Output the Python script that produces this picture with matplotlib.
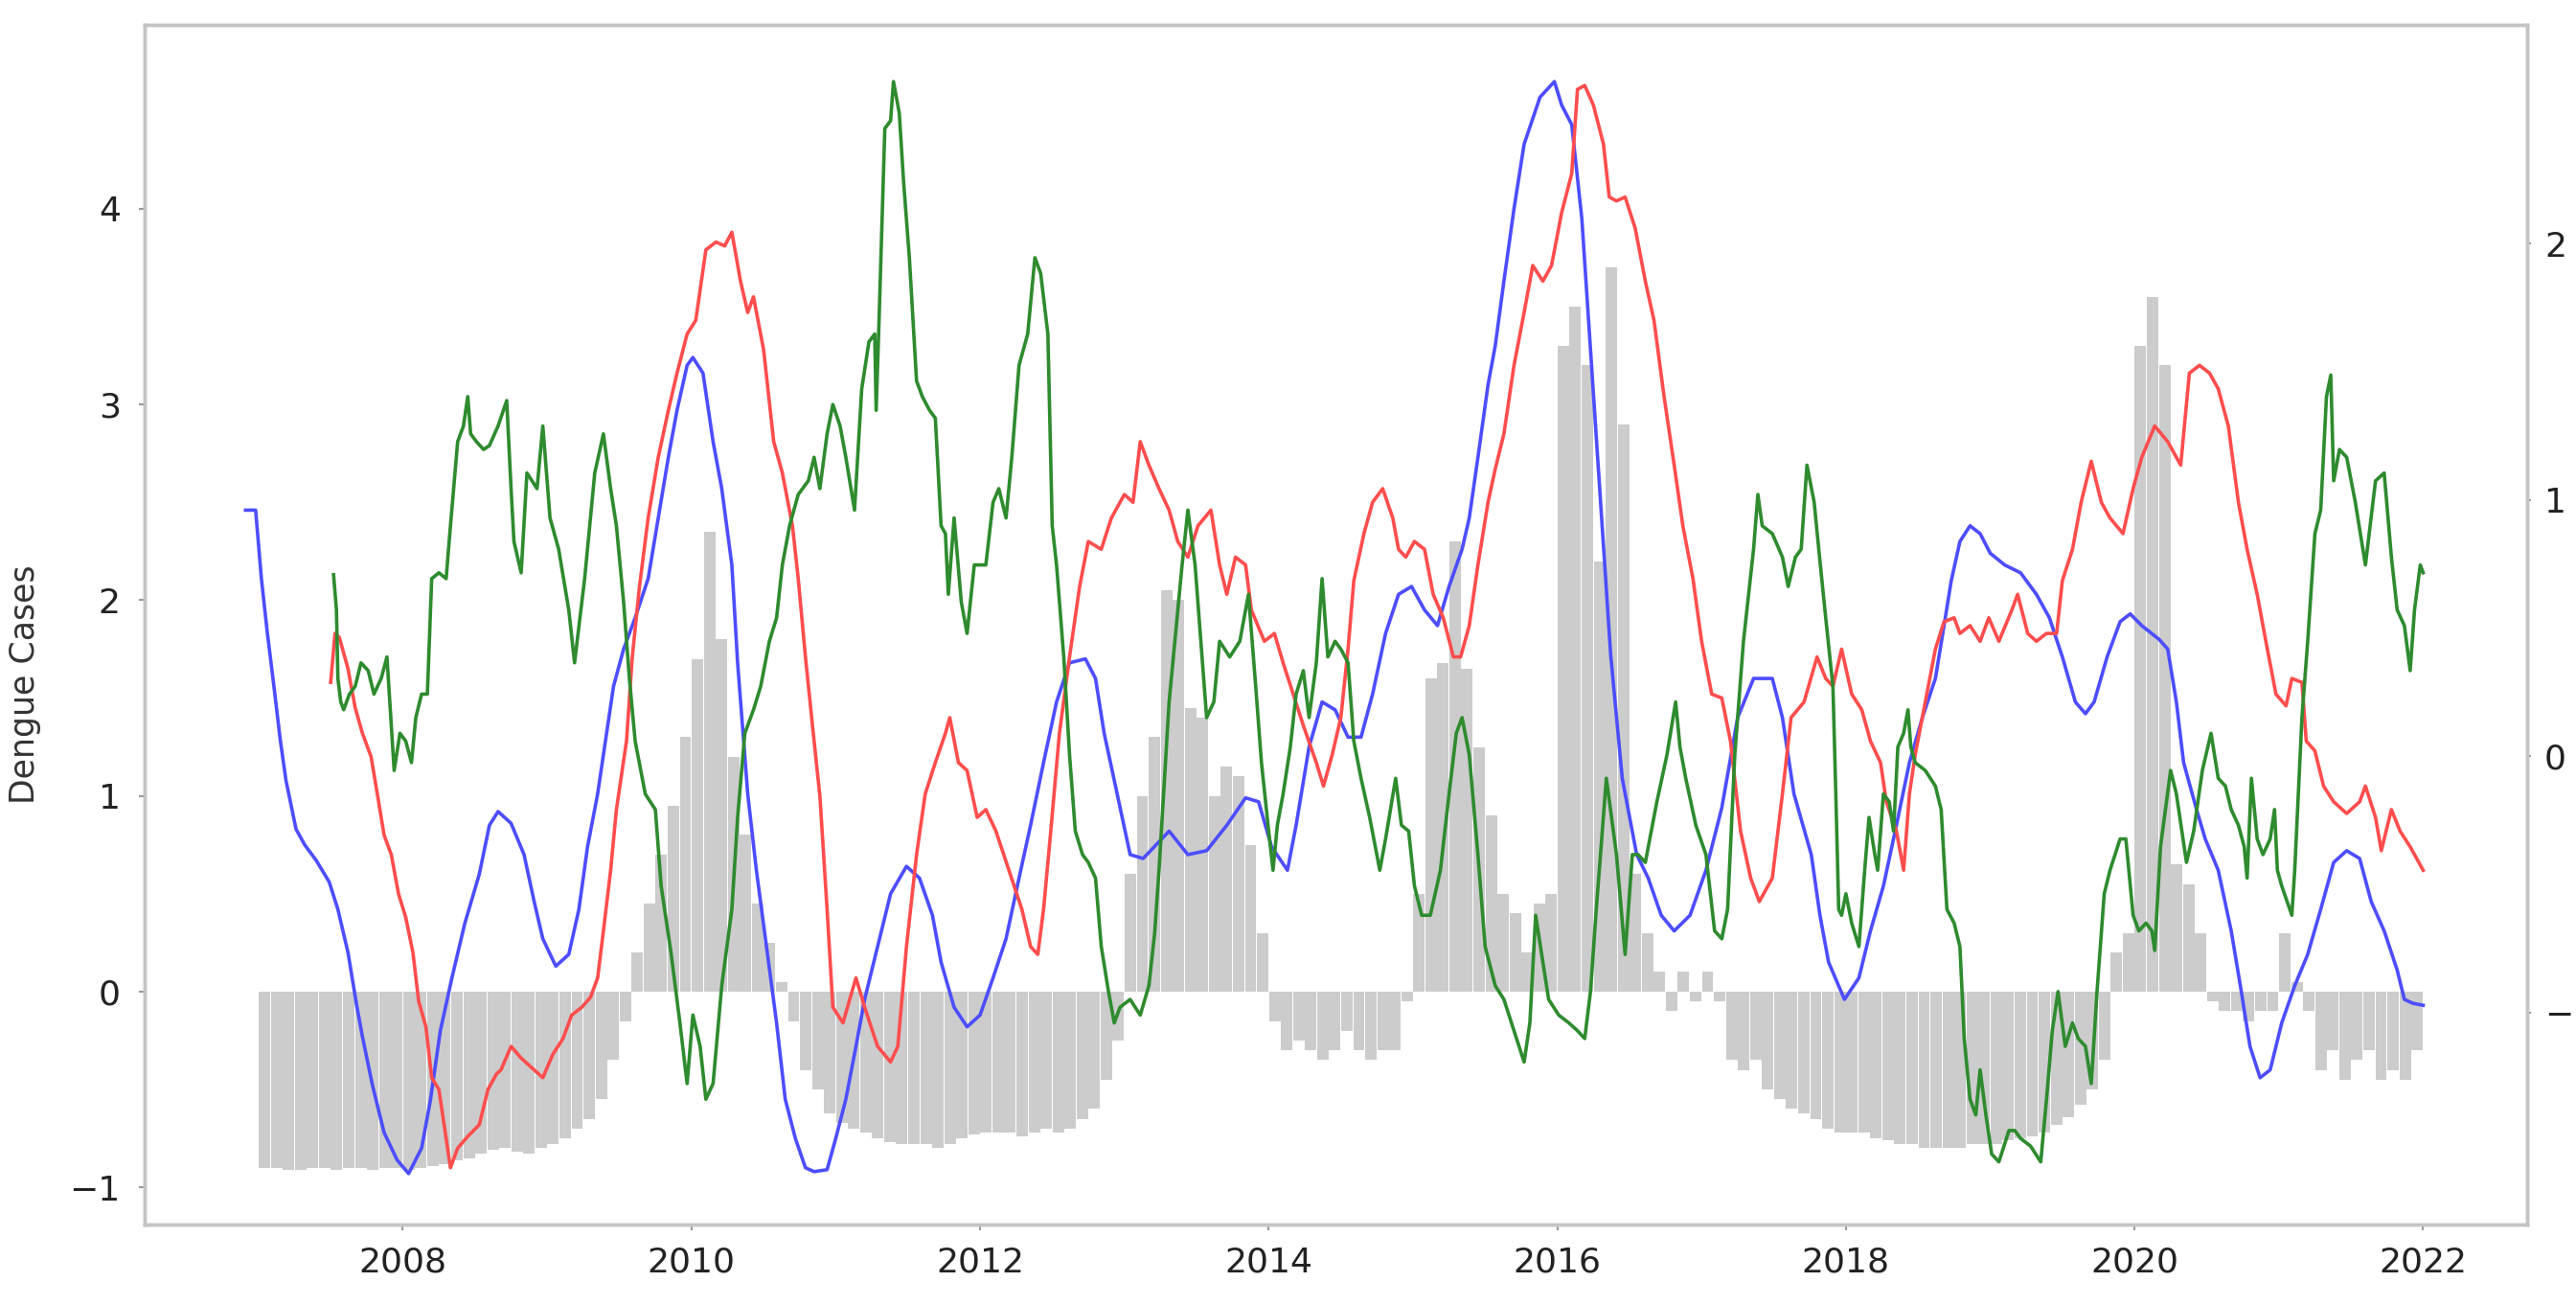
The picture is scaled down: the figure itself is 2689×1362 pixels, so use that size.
import matplotlib
matplotlib.use("Agg")
import matplotlib.pyplot as plt
import numpy as np

# ---------------- data (left-axis units) ----------------
bars_2007 = [-0.90, -0.90, -0.91, -0.91, -0.90, -0.90, -0.91, -0.90, -0.90, -0.91, -0.90, -0.90]
bars_2008 = [-0.91, -0.90, -0.89, -0.88, -0.86, -0.85, -0.83, -0.81, -0.80, -0.82, -0.83, -0.80]
bars_2009 = [-0.78, -0.75, -0.70, -0.65, -0.55, -0.35, -0.15, 0.20, 0.45, 0.70, 0.95, 1.30]
bars_2010 = [1.70, 2.35, 1.80, 1.20, 0.80, 0.45, 0.25, 0.05, -0.15, -0.40, -0.50, -0.62]
bars_2011 = [-0.67, -0.70, -0.72, -0.75, -0.77, -0.78, -0.78, -0.78, -0.80, -0.78, -0.75, -0.73]
bars_2012 = [-0.72, -0.72, -0.72, -0.74, -0.72, -0.70, -0.72, -0.70, -0.65, -0.60, -0.45, -0.25]
bars_2013 = [0.60, 1.00, 1.30, 2.05, 2.00, 1.45, 1.40, 1.00, 1.15, 1.10, 0.75, 0.30]
bars_2014 = [-0.15, -0.30, -0.25, -0.30, -0.35, -0.30, -0.20, -0.30, -0.35, -0.30, -0.30, -0.05]
bars_2015 = [0.50, 1.60, 1.68, 2.30, 1.65, 1.25, 0.90, 0.50, 0.40, 0.20, 0.45, 0.50]
bars_2016 = [3.30, 3.50, 3.20, 2.20, 3.70, 2.90, 0.60, 0.30, 0.10, -0.10, 0.10, -0.05]
bars_2017 = [0.10, -0.05, -0.35, -0.40, -0.35, -0.50, -0.55, -0.60, -0.62, -0.65, -0.70, -0.72]
bars_2018 = [-0.72, -0.72, -0.75, -0.76, -0.78, -0.78, -0.80, -0.80, -0.80, -0.80, -0.78, -0.78]
bars_2019 = [-0.78, -0.76, -0.75, -0.74, -0.72, -0.68, -0.64, -0.58, -0.50, -0.35, 0.20, 0.30]
bars_2020 = [3.30, 3.55, 3.20, 0.65, 0.55, 0.30, -0.05, -0.10, -0.10, -0.15, -0.10, -0.10]
bars_2021 = [0.30, 0.05, -0.10, -0.40, -0.30, -0.45, -0.35, -0.30, -0.45, -0.40, -0.45, -0.30]
bar_years = [2007, 2008, 2009, 2010, 2011, 2012, 2013, 2014, 2015, 2016, 2017, 2018, 2019, 2020, 2021]
bar_rows = [bars_2007, bars_2008, bars_2009, bars_2010, bars_2011, bars_2012, bars_2013,
            bars_2014, bars_2015, bars_2016, bars_2017, bars_2018, bars_2019, bars_2020, bars_2021]

blue_points = [
    (2006.91, 2.46), (2006.98, 2.46), (2007.02, 2.11), (2007.06, 1.84), (2007.11, 1.54), (2007.15, 1.29),
    (2007.19, 1.08), (2007.26, 0.83), (2007.32, 0.75), (2007.40, 0.67), (2007.49, 0.56), (2007.55, 0.42),
    (2007.62, 0.20), (2007.68, -0.07), (2007.72, -0.23), (2007.79, -0.48), (2007.87, -0.72), (2007.96, -0.86),
    (2008.04, -0.93), (2008.13, -0.80), (2008.19, -0.56), (2008.26, -0.20), (2008.34, 0.07), (2008.43, 0.35),
    (2008.53, 0.60), (2008.60, 0.85), (2008.66, 0.92), (2008.75, 0.86), (2008.84, 0.70), (2008.91, 0.46),
    (2008.97, 0.27), (2009.06, 0.13), (2009.15, 0.19), (2009.22, 0.42), (2009.28, 0.74), (2009.35, 1.01),
    (2009.39, 1.21), (2009.46, 1.56), (2009.53, 1.75), (2009.61, 1.91), (2009.70, 2.11), (2009.77, 2.42),
    (2009.84, 2.73), (2009.90, 2.97), (2009.97, 3.20), (2010.01, 3.24), (2010.08, 3.16), (2010.15, 2.81),
    (2010.21, 2.57), (2010.28, 2.18), (2010.32, 1.68), (2010.39, 1.01), (2010.45, 0.62), (2010.52, 0.23),
    (2010.59, -0.16), (2010.65, -0.55), (2010.72, -0.75), (2010.79, -0.90), (2010.85, -0.92), (2010.94, -0.91),
    (2011.00, -0.75), (2011.07, -0.55), (2011.14, -0.28), (2011.20, -0.04), (2011.29, 0.23), (2011.38, 0.50),
    (2011.49, 0.64), (2011.58, 0.58), (2011.67, 0.39), (2011.73, 0.15), (2011.82, -0.08), (2011.91, -0.18),
    (2012.00, -0.12), (2012.09, 0.07), (2012.18, 0.27), (2012.27, 0.58), (2012.35, 0.85), (2012.44, 1.17),
    (2012.53, 1.48), (2012.62, 1.68), (2012.73, 1.70), (2012.80, 1.60), (2012.86, 1.32), (2012.95, 1.01),
    (2013.04, 0.70), (2013.13, 0.68), (2013.22, 0.75), (2013.31, 0.82), (2013.44, 0.70), (2013.57, 0.72),
    (2013.71, 0.85), (2013.84, 0.99), (2013.93, 0.97), (2014.02, 0.74), (2014.13, 0.62), (2014.19, 0.85),
    (2014.28, 1.25), (2014.37, 1.48), (2014.46, 1.44), (2014.55, 1.30), (2014.64, 1.30), (2014.72, 1.52),
    (2014.81, 1.83), (2014.90, 2.03), (2014.99, 2.07), (2015.08, 1.95), (2015.17, 1.87), (2015.25, 2.07),
    (2015.34, 2.26), (2015.39, 2.42), (2015.45, 2.73), (2015.52, 3.10), (2015.57, 3.30), (2015.63, 3.63),
    (2015.70, 4.00), (2015.77, 4.33), (2015.88, 4.57), (2015.98, 4.65), (2016.03, 4.53), (2016.10, 4.43),
    (2016.17, 3.95), (2016.23, 3.28), (2016.30, 2.50), (2016.37, 1.72), (2016.45, 1.09), (2016.55, 0.70),
    (2016.63, 0.58), (2016.72, 0.39), (2016.81, 0.31), (2016.92, 0.39), (2017.03, 0.62), (2017.14, 0.94),
    (2017.25, 1.40), (2017.36, 1.60), (2017.49, 1.60), (2017.56, 1.40), (2017.64, 1.01), (2017.76, 0.70),
    (2017.82, 0.39), (2017.88, 0.15), (2017.99, -0.04), (2018.09, 0.07), (2018.17, 0.31), (2018.26, 0.54),
    (2018.35, 0.85), (2018.44, 1.17), (2018.53, 1.40), (2018.62, 1.60), (2018.68, 1.87), (2018.73, 2.10),
    (2018.79, 2.30), (2018.86, 2.38), (2018.93, 2.34), (2019.00, 2.24), (2019.10, 2.18), (2019.21, 2.14),
    (2019.32, 2.03), (2019.41, 1.91), (2019.50, 1.71), (2019.59, 1.48), (2019.66, 1.42), (2019.72, 1.48),
    (2019.81, 1.71), (2019.90, 1.89), (2019.97, 1.93), (2020.05, 1.87), (2020.17, 1.80), (2020.23, 1.75),
    (2020.29, 1.48), (2020.34, 1.17), (2020.43, 0.93), (2020.49, 0.78), (2020.58, 0.62), (2020.67, 0.31),
    (2020.74, 0.00), (2020.80, -0.28), (2020.87, -0.44), (2020.94, -0.40), (2021.02, -0.16), (2021.11, 0.03),
    (2021.20, 0.19), (2021.29, 0.42), (2021.38, 0.66), (2021.47, 0.72), (2021.56, 0.68), (2021.64, 0.46),
    (2021.73, 0.31), (2021.82, 0.11), (2021.87, -0.04), (2021.93, -0.06), (2022.00, -0.07),
]

red_points = [
    (2007.50, 1.58), (2007.53, 1.83), (2007.56, 1.81), (2007.62, 1.65), (2007.67, 1.45), (2007.72, 1.32),
    (2007.78, 1.20), (2007.83, 0.98), (2007.87, 0.80), (2007.92, 0.70), (2007.97, 0.50), (2008.02, 0.38),
    (2008.07, 0.20), (2008.11, -0.05), (2008.16, -0.18), (2008.20, -0.44), (2008.25, -0.50), (2008.29, -0.70),
    (2008.33, -0.90), (2008.38, -0.80), (2008.45, -0.74), (2008.53, -0.68), (2008.59, -0.50), (2008.65, -0.42),
    (2008.68, -0.40), (2008.75, -0.28), (2008.82, -0.34), (2008.88, -0.38), (2008.97, -0.44), (2009.04, -0.32),
    (2009.11, -0.24), (2009.17, -0.12), (2009.24, -0.08), (2009.30, -0.03), (2009.35, 0.07), (2009.39, 0.31),
    (2009.44, 0.62), (2009.48, 0.93), (2009.55, 1.28), (2009.59, 1.71), (2009.64, 2.07), (2009.70, 2.42),
    (2009.77, 2.73), (2009.84, 2.97), (2009.90, 3.16), (2009.97, 3.36), (2010.03, 3.43), (2010.10, 3.79),
    (2010.17, 3.83), (2010.23, 3.81), (2010.28, 3.88), (2010.34, 3.63), (2010.39, 3.47), (2010.43, 3.55),
    (2010.50, 3.28), (2010.57, 2.81), (2010.63, 2.65), (2010.70, 2.38), (2010.74, 2.11), (2010.79, 1.71),
    (2010.84, 1.35), (2010.89, 1.00), (2010.94, 0.42), (2010.98, -0.08), (2011.05, -0.16), (2011.14, 0.07),
    (2011.20, -0.08), (2011.29, -0.28), (2011.38, -0.36), (2011.43, -0.28), (2011.49, 0.23), (2011.56, 0.70),
    (2011.62, 1.01), (2011.69, 1.17), (2011.76, 1.32), (2011.79, 1.40), (2011.85, 1.17), (2011.91, 1.13),
    (2011.98, 0.89), (2012.04, 0.93), (2012.11, 0.82), (2012.20, 0.62), (2012.29, 0.42), (2012.35, 0.23),
    (2012.40, 0.19), (2012.44, 0.42), (2012.49, 0.82), (2012.55, 1.32), (2012.62, 1.71), (2012.69, 2.07),
    (2012.75, 2.30), (2012.84, 2.26), (2012.91, 2.42), (2013.00, 2.54), (2013.06, 2.50), (2013.11, 2.81),
    (2013.17, 2.69), (2013.24, 2.57), (2013.31, 2.46), (2013.37, 2.30), (2013.44, 2.22), (2013.51, 2.38),
    (2013.60, 2.46), (2013.66, 2.18), (2013.71, 2.03), (2013.77, 2.22), (2013.84, 2.18), (2013.88, 1.95),
    (2013.97, 1.79), (2014.04, 1.83), (2014.10, 1.68), (2014.17, 1.52), (2014.24, 1.36), (2014.33, 1.17),
    (2014.38, 1.05), (2014.44, 1.21), (2014.50, 1.40), (2014.55, 1.75), (2014.59, 2.10), (2014.66, 2.34),
    (2014.72, 2.50), (2014.79, 2.57), (2014.86, 2.42), (2014.90, 2.26), (2014.95, 2.22), (2015.01, 2.30),
    (2015.08, 2.26), (2015.14, 2.03), (2015.21, 1.91), (2015.28, 1.71), (2015.33, 1.71), (2015.39, 1.87),
    (2015.45, 2.18), (2015.52, 2.50), (2015.57, 2.67), (2015.63, 2.85), (2015.70, 3.20), (2015.77, 3.47),
    (2015.83, 3.71), (2015.90, 3.63), (2015.96, 3.71), (2016.03, 3.98), (2016.10, 4.18), (2016.14, 4.61),
    (2016.19, 4.63), (2016.25, 4.53), (2016.32, 4.33), (2016.36, 4.06), (2016.41, 4.04), (2016.47, 4.06),
    (2016.54, 3.90), (2016.61, 3.63), (2016.67, 3.43), (2016.74, 3.04), (2016.81, 2.69), (2016.87, 2.38),
    (2016.94, 2.11), (2017.00, 1.79), (2017.07, 1.52), (2017.14, 1.50), (2017.20, 1.28), (2017.27, 0.82),
    (2017.34, 0.58), (2017.40, 0.46), (2017.49, 0.58), (2017.56, 1.01), (2017.62, 1.40), (2017.71, 1.48),
    (2017.80, 1.71), (2017.86, 1.60), (2017.91, 1.56), (2017.97, 1.75), (2018.04, 1.52), (2018.11, 1.44),
    (2018.17, 1.28), (2018.24, 1.17), (2018.28, 0.97), (2018.35, 0.82), (2018.40, 0.62), (2018.44, 1.01),
    (2018.48, 1.21), (2018.55, 1.48), (2018.62, 1.75), (2018.68, 1.89), (2018.75, 1.91), (2018.79, 1.83),
    (2018.86, 1.87), (2018.93, 1.79), (2018.99, 1.91), (2019.06, 1.79), (2019.15, 1.95), (2019.19, 2.03),
    (2019.26, 1.83), (2019.32, 1.79), (2019.39, 1.83), (2019.46, 1.83), (2019.50, 2.10), (2019.57, 2.26),
    (2019.63, 2.50), (2019.70, 2.71), (2019.77, 2.50), (2019.83, 2.42), (2019.92, 2.34), (2019.99, 2.57),
    (2020.05, 2.73), (2020.14, 2.89), (2020.23, 2.81), (2020.32, 2.69), (2020.38, 3.16), (2020.45, 3.20),
    (2020.52, 3.16), (2020.58, 3.08), (2020.65, 2.89), (2020.72, 2.50), (2020.78, 2.26), (2020.85, 2.03),
    (2020.91, 1.79), (2020.98, 1.52), (2021.05, 1.46), (2021.09, 1.60), (2021.16, 1.58), (2021.19, 1.28),
    (2021.25, 1.23), (2021.31, 1.05), (2021.38, 0.97), (2021.47, 0.91), (2021.56, 0.97), (2021.60, 1.05),
    (2021.67, 0.89), (2021.71, 0.72), (2021.78, 0.93), (2021.84, 0.82), (2021.91, 0.74), (2022.00, 0.62),
]

green_points = [
    (2007.52, 2.13), (2007.54, 1.95), (2007.55, 1.60), (2007.57, 1.48), (2007.59, 1.44), (2007.63, 1.52),
    (2007.67, 1.56), (2007.71, 1.68), (2007.76, 1.64), (2007.80, 1.52), (2007.85, 1.60), (2007.89, 1.71),
    (2007.91, 1.48), (2007.94, 1.13), (2007.98, 1.32), (2008.02, 1.28), (2008.06, 1.17), (2008.09, 1.40),
    (2008.13, 1.52), (2008.17, 1.52), (2008.20, 2.11), (2008.25, 2.14), (2008.30, 2.11), (2008.33, 2.38),
    (2008.38, 2.81), (2008.42, 2.89), (2008.45, 3.04), (2008.47, 2.85), (2008.51, 2.81), (2008.56, 2.77),
    (2008.60, 2.79), (2008.66, 2.89), (2008.72, 3.02), (2008.75, 2.57), (2008.77, 2.30), (2008.82, 2.14),
    (2008.86, 2.65), (2008.93, 2.57), (2008.97, 2.89), (2009.02, 2.42), (2009.08, 2.26), (2009.15, 1.95),
    (2009.19, 1.68), (2009.26, 2.11), (2009.33, 2.65), (2009.39, 2.85), (2009.44, 2.57), (2009.48, 2.38),
    (2009.53, 1.99), (2009.57, 1.60), (2009.61, 1.28), (2009.68, 1.01), (2009.75, 0.93), (2009.79, 0.54),
    (2009.86, 0.19), (2009.92, -0.16), (2009.97, -0.47), (2010.01, -0.12), (2010.06, -0.28), (2010.10, -0.55),
    (2010.15, -0.47), (2010.21, 0.03), (2010.28, 0.42), (2010.32, 0.89), (2010.37, 1.32), (2010.43, 1.44),
    (2010.48, 1.56), (2010.54, 1.79), (2010.59, 1.91), (2010.63, 2.18), (2010.68, 2.38), (2010.74, 2.54),
    (2010.81, 2.61), (2010.85, 2.73), (2010.89, 2.57), (2010.94, 2.85), (2010.98, 3.00), (2011.03, 2.89),
    (2011.07, 2.73), (2011.13, 2.46), (2011.18, 3.08), (2011.23, 3.32), (2011.27, 3.36), (2011.28, 2.97),
    (2011.30, 3.43), (2011.34, 4.41), (2011.38, 4.45), (2011.40, 4.65), (2011.44, 4.49), (2011.47, 4.14),
    (2011.51, 3.75), (2011.56, 3.12), (2011.60, 3.04), (2011.65, 2.97), (2011.69, 2.93), (2011.73, 2.38),
    (2011.76, 2.34), (2011.78, 2.03), (2011.82, 2.42), (2011.87, 1.99), (2011.91, 1.83), (2011.96, 2.18),
    (2012.00, 2.18), (2012.04, 2.18), (2012.09, 2.50), (2012.13, 2.57), (2012.18, 2.42), (2012.22, 2.73),
    (2012.27, 3.20), (2012.33, 3.36), (2012.38, 3.75), (2012.42, 3.67), (2012.47, 3.36), (2012.50, 2.38),
    (2012.53, 2.18), (2012.58, 1.71), (2012.62, 1.21), (2012.66, 0.82), (2012.71, 0.70), (2012.75, 0.66),
    (2012.80, 0.58), (2012.84, 0.23), (2012.89, 0.00), (2012.93, -0.16), (2012.97, -0.08), (2013.04, -0.04),
    (2013.11, -0.12), (2013.17, 0.03), (2013.21, 0.30), (2013.24, 0.62), (2013.31, 1.48), (2013.35, 1.79),
    (2013.40, 2.18), (2013.44, 2.46), (2013.49, 2.18), (2013.53, 1.79), (2013.57, 1.40), (2013.62, 1.48),
    (2013.66, 1.79), (2013.73, 1.71), (2013.80, 1.79), (2013.86, 2.03), (2013.91, 1.56), (2013.95, 1.17),
    (2014.00, 0.82), (2014.03, 0.62), (2014.06, 0.85), (2014.10, 1.01), (2014.15, 1.25), (2014.19, 1.52),
    (2014.24, 1.64), (2014.28, 1.40), (2014.33, 1.68), (2014.37, 2.11), (2014.41, 1.71), (2014.46, 1.79),
    (2014.50, 1.75), (2014.55, 1.68), (2014.59, 1.28), (2014.64, 1.09), (2014.70, 0.89), (2014.77, 0.62),
    (2014.81, 0.78), (2014.88, 1.09), (2014.92, 0.85), (2014.97, 0.82), (2015.01, 0.54), (2015.06, 0.39),
    (2015.12, 0.39), (2015.19, 0.62), (2015.25, 1.01), (2015.30, 1.32), (2015.34, 1.40), (2015.39, 1.21),
    (2015.45, 0.70), (2015.50, 0.23), (2015.57, 0.03), (2015.63, -0.04), (2015.70, -0.20), (2015.77, -0.36),
    (2015.81, -0.16), (2015.85, 0.39), (2015.90, 0.15), (2015.94, -0.04), (2016.01, -0.12), (2016.08, -0.16),
    (2016.14, -0.20), (2016.19, -0.24), (2016.23, 0.00), (2016.27, 0.42), (2016.34, 1.09), (2016.41, 0.70),
    (2016.47, 0.19), (2016.52, 0.70), (2016.56, 0.70), (2016.61, 0.66), (2016.69, 0.97), (2016.76, 1.21),
    (2016.82, 1.48), (2016.85, 1.25), (2016.89, 1.09), (2016.96, 0.85), (2017.03, 0.70), (2017.09, 0.31),
    (2017.14, 0.27), (2017.18, 0.42), (2017.23, 1.21), (2017.29, 1.79), (2017.36, 2.26), (2017.39, 2.54),
    (2017.42, 2.38), (2017.49, 2.34), (2017.56, 2.22), (2017.60, 2.07), (2017.65, 2.22), (2017.69, 2.26),
    (2017.73, 2.69), (2017.78, 2.50), (2017.82, 2.20), (2017.86, 1.91), (2017.91, 1.56), (2017.93, 1.01),
    (2017.95, 0.42), (2017.97, 0.39), (2018.00, 0.50), (2018.04, 0.35), (2018.09, 0.23), (2018.13, 0.62),
    (2018.16, 0.89), (2018.20, 0.70), (2018.22, 0.62), (2018.26, 1.01), (2018.30, 0.97), (2018.33, 0.82),
    (2018.36, 1.25), (2018.40, 1.32), (2018.43, 1.44), (2018.45, 1.25), (2018.48, 1.17), (2018.55, 1.13),
    (2018.62, 1.05), (2018.66, 0.93), (2018.70, 0.42), (2018.75, 0.35), (2018.79, 0.23), (2018.82, -0.24),
    (2018.86, -0.55), (2018.90, -0.63), (2018.93, -0.40), (2018.97, -0.63), (2019.01, -0.83), (2019.06, -0.87),
    (2019.13, -0.71), (2019.17, -0.71), (2019.21, -0.75), (2019.28, -0.79), (2019.35, -0.87), (2019.39, -0.55),
    (2019.43, -0.20), (2019.47, 0.00), (2019.52, -0.28), (2019.57, -0.16), (2019.61, -0.24), (2019.66, -0.28),
    (2019.70, -0.47), (2019.74, 0.00), (2019.79, 0.50), (2019.83, 0.62), (2019.90, 0.78), (2019.94, 0.78),
    (2019.99, 0.39), (2020.03, 0.31), (2020.08, 0.35), (2020.12, 0.31), (2020.14, 0.21), (2020.18, 0.74),
    (2020.25, 1.13), (2020.29, 1.01), (2020.36, 0.66), (2020.41, 0.82), (2020.47, 1.13), (2020.53, 1.32),
    (2020.58, 1.09), (2020.63, 1.05), (2020.67, 0.93), (2020.72, 0.85), (2020.76, 0.74), (2020.78, 0.58),
    (2020.81, 1.09), (2020.85, 0.78), (2020.89, 0.70), (2020.94, 0.78), (2020.97, 0.93), (2020.99, 0.62),
    (2021.02, 0.54), (2021.09, 0.39), (2021.11, 0.62), (2021.16, 1.40), (2021.20, 1.79), (2021.25, 2.34),
    (2021.29, 2.46), (2021.33, 3.04), (2021.36, 3.15), (2021.38, 2.61), (2021.42, 2.77), (2021.47, 2.73),
    (2021.53, 2.50), (2021.60, 2.18), (2021.67, 2.61), (2021.73, 2.65), (2021.78, 2.22), (2021.82, 1.95),
    (2021.87, 1.87), (2021.91, 1.64), (2021.94, 1.95), (2021.98, 2.18), (2022.00, 2.14),
]

x_tick_years = [2008, 2010, 2012, 2014, 2016, 2018, 2020, 2022]
x_tick_labels = ["2008", "2010", "2012", "2014", "2016", "2018", "2020", "2022"]
left_ticks = [-1, 0, 1, 2, 3, 4]
right_ticks = [-1, 0, 1, 2]

# ---------------- figure ----------------
fig = plt.figure(figsize=(26.89, 13.62), dpi=100)
ax = fig.add_axes([0.0561, 0.0617, 0.9249, 0.9193])

bx, bv = [], []
for yr, row in zip(bar_years, bar_rows):
    for m, v in enumerate(row):
        bx.append(yr + (m + 0.5) / 12.0)
        bv.append(v)
ax.bar(bx, bv, width=0.95 / 12.0, color="#cccccc", linewidth=0, zorder=1)

for pts, col in [(blue_points, "#4d4dff"), (red_points, "#ff4d4d"), (green_points, "#2e8b2e")]:
    t = [p[0] for p in pts]
    v = [p[1] for p in pts]
    ax.plot(t, v, color=col, lw=2.6, zorder=3, solid_joinstyle="round")

ax.set_xlim(2006.21, 2022.72)
ax.set_ylim(-1.19, 4.94)
ax.set_xticks(x_tick_years)
ax.set_xticklabels(x_tick_labels)
ax.set_yticks(left_ticks)
ax.set_yticklabels(["\u22121", "0", "1", "2", "3", "4"])
ax.set_ylabel("Dengue Cases", fontsize=25, color="#333333")
ax.yaxis.set_label_coords(-0.0434, 0.45)

ax2 = ax.twinx()
ax2.set_ylim(-1.827, 2.853)
ax2.set_yticks(right_ticks)
ax2.set_yticklabels(["\u22121", "0", "1", "2"])

for a in (ax, ax2):
    for s in a.spines.values():
        s.set_color("#c4c4c4")
        s.set_linewidth(2.5)
ax.tick_params(axis="both", labelsize=26, labelcolor="#222222", color="#999999", length=4, width=1.5)
ax.tick_params(axis="y", pad=14)
ax.tick_params(axis="x", pad=12)
ax2.tick_params(axis="y", labelsize=26, labelcolor="#222222", color="#999999", length=3, width=1.5, pad=10)

fig.savefig("out.png", dpi=100)
